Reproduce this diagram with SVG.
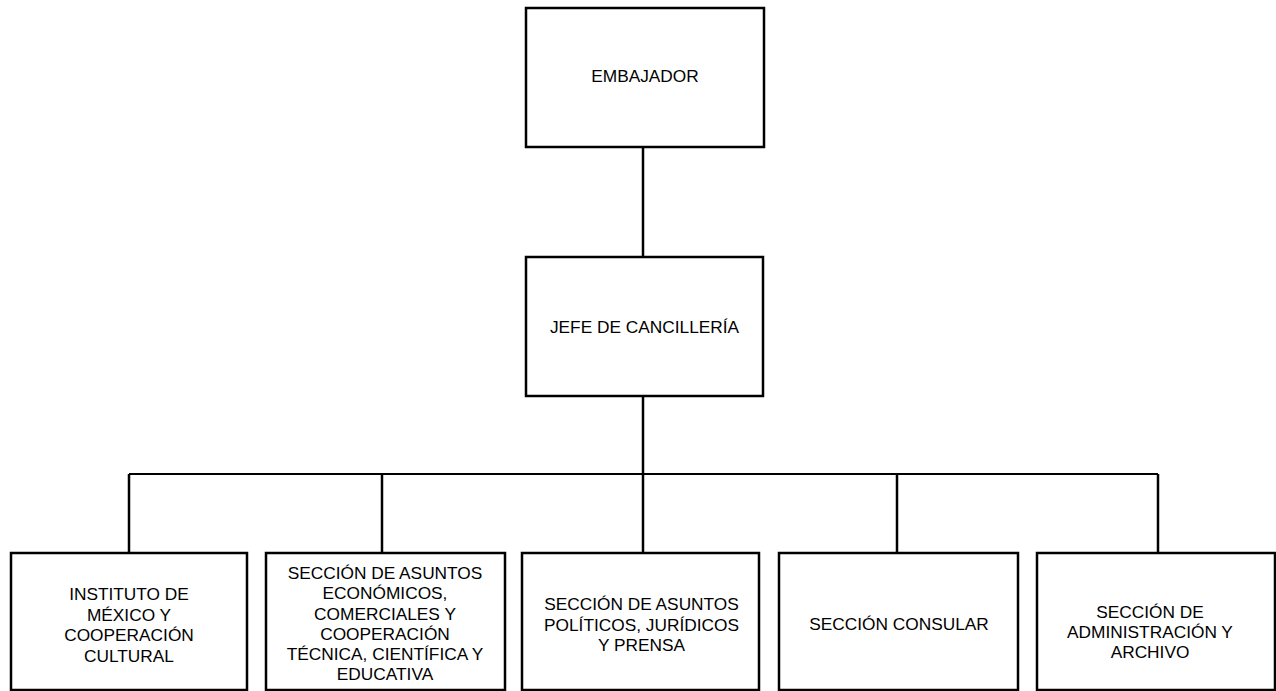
<svg xmlns="http://www.w3.org/2000/svg" width="1276" height="691" viewBox="0 0 1276 691">
<style>
.box{fill:#fff;stroke:#000;stroke-width:2.5}
.ln{stroke:#000;stroke-width:2.5;fill:none}
text{font-family:"Liberation Sans",Arial,sans-serif;font-size:17.3px;fill:#000;text-anchor:middle}
</style>
<rect width="1276" height="691" fill="#fff"/>
<g id="connectors">
<line class="ln" x1="643" y1="147" x2="643" y2="257"/>
<line class="ln" x1="643" y1="396" x2="643" y2="474"/>
<line class="ln" x1="129" y1="474" x2="1158" y2="474" style="stroke-width:2"/>
<line class="ln" x1="129" y1="474" x2="129" y2="553"/>
<line class="ln" x1="382" y1="474" x2="382" y2="553"/>
<line class="ln" x1="643" y1="474" x2="643" y2="553"/>
<line class="ln" x1="897" y1="474" x2="897" y2="553"/>
<line class="ln" x1="1158" y1="474" x2="1158" y2="553"/>
</g>
<g id="embajador">
<rect class="box" x="526" y="8" width="238" height="139"/>
<text x="645" y="82">EMBAJADOR</text>
</g>
<g id="jefe">
<rect class="box" x="526" y="257" width="237" height="139"/>
<text x="644.5" y="333">JEFE DE CANCILLERÍA</text>
</g>
<g id="instituto">
<rect class="box" x="11" y="553" width="236" height="137"/>
<text x="129" y="600">INSTITUTO DE</text>
<text x="129" y="620.5">MÉXICO Y</text>
<text x="129" y="641">COOPERACIÓN</text>
<text x="129" y="661.5">CULTURAL</text>
</g>
<g id="economicos">
<rect class="box" x="266" y="553" width="239" height="137"/>
<text x="385" y="579">SECCIÓN DE ASUNTOS</text>
<text x="385" y="599">ECONÓMICOS,</text>
<text x="385" y="619.5">COMERCIALES Y</text>
<text x="385" y="640">COOPERACIÓN</text>
<text x="385" y="660">TÉCNICA, CIENTÍFICA Y</text>
<text x="385" y="680">EDUCATIVA</text>
</g>
<g id="politicos">
<rect class="box" x="522" y="553" width="237" height="137"/>
<text x="641.5" y="610">SECCIÓN DE ASUNTOS</text>
<text x="641.5" y="631">POLÍTICOS, JURÍDICOS</text>
<text x="641.5" y="651">Y PRENSA</text>
</g>
<g id="consular">
<rect class="box" x="779" y="553" width="239" height="137"/>
<text x="899" y="630">SECCIÓN CONSULAR</text>
</g>
<g id="administracion">
<rect class="box" x="1037" y="553" width="238" height="137"/>
<text x="1150" y="618">SECCIÓN DE</text>
<text x="1150" y="638">ADMINISTRACIÓN Y</text>
<text x="1150" y="658">ARCHIVO</text>
</g>
</svg>
